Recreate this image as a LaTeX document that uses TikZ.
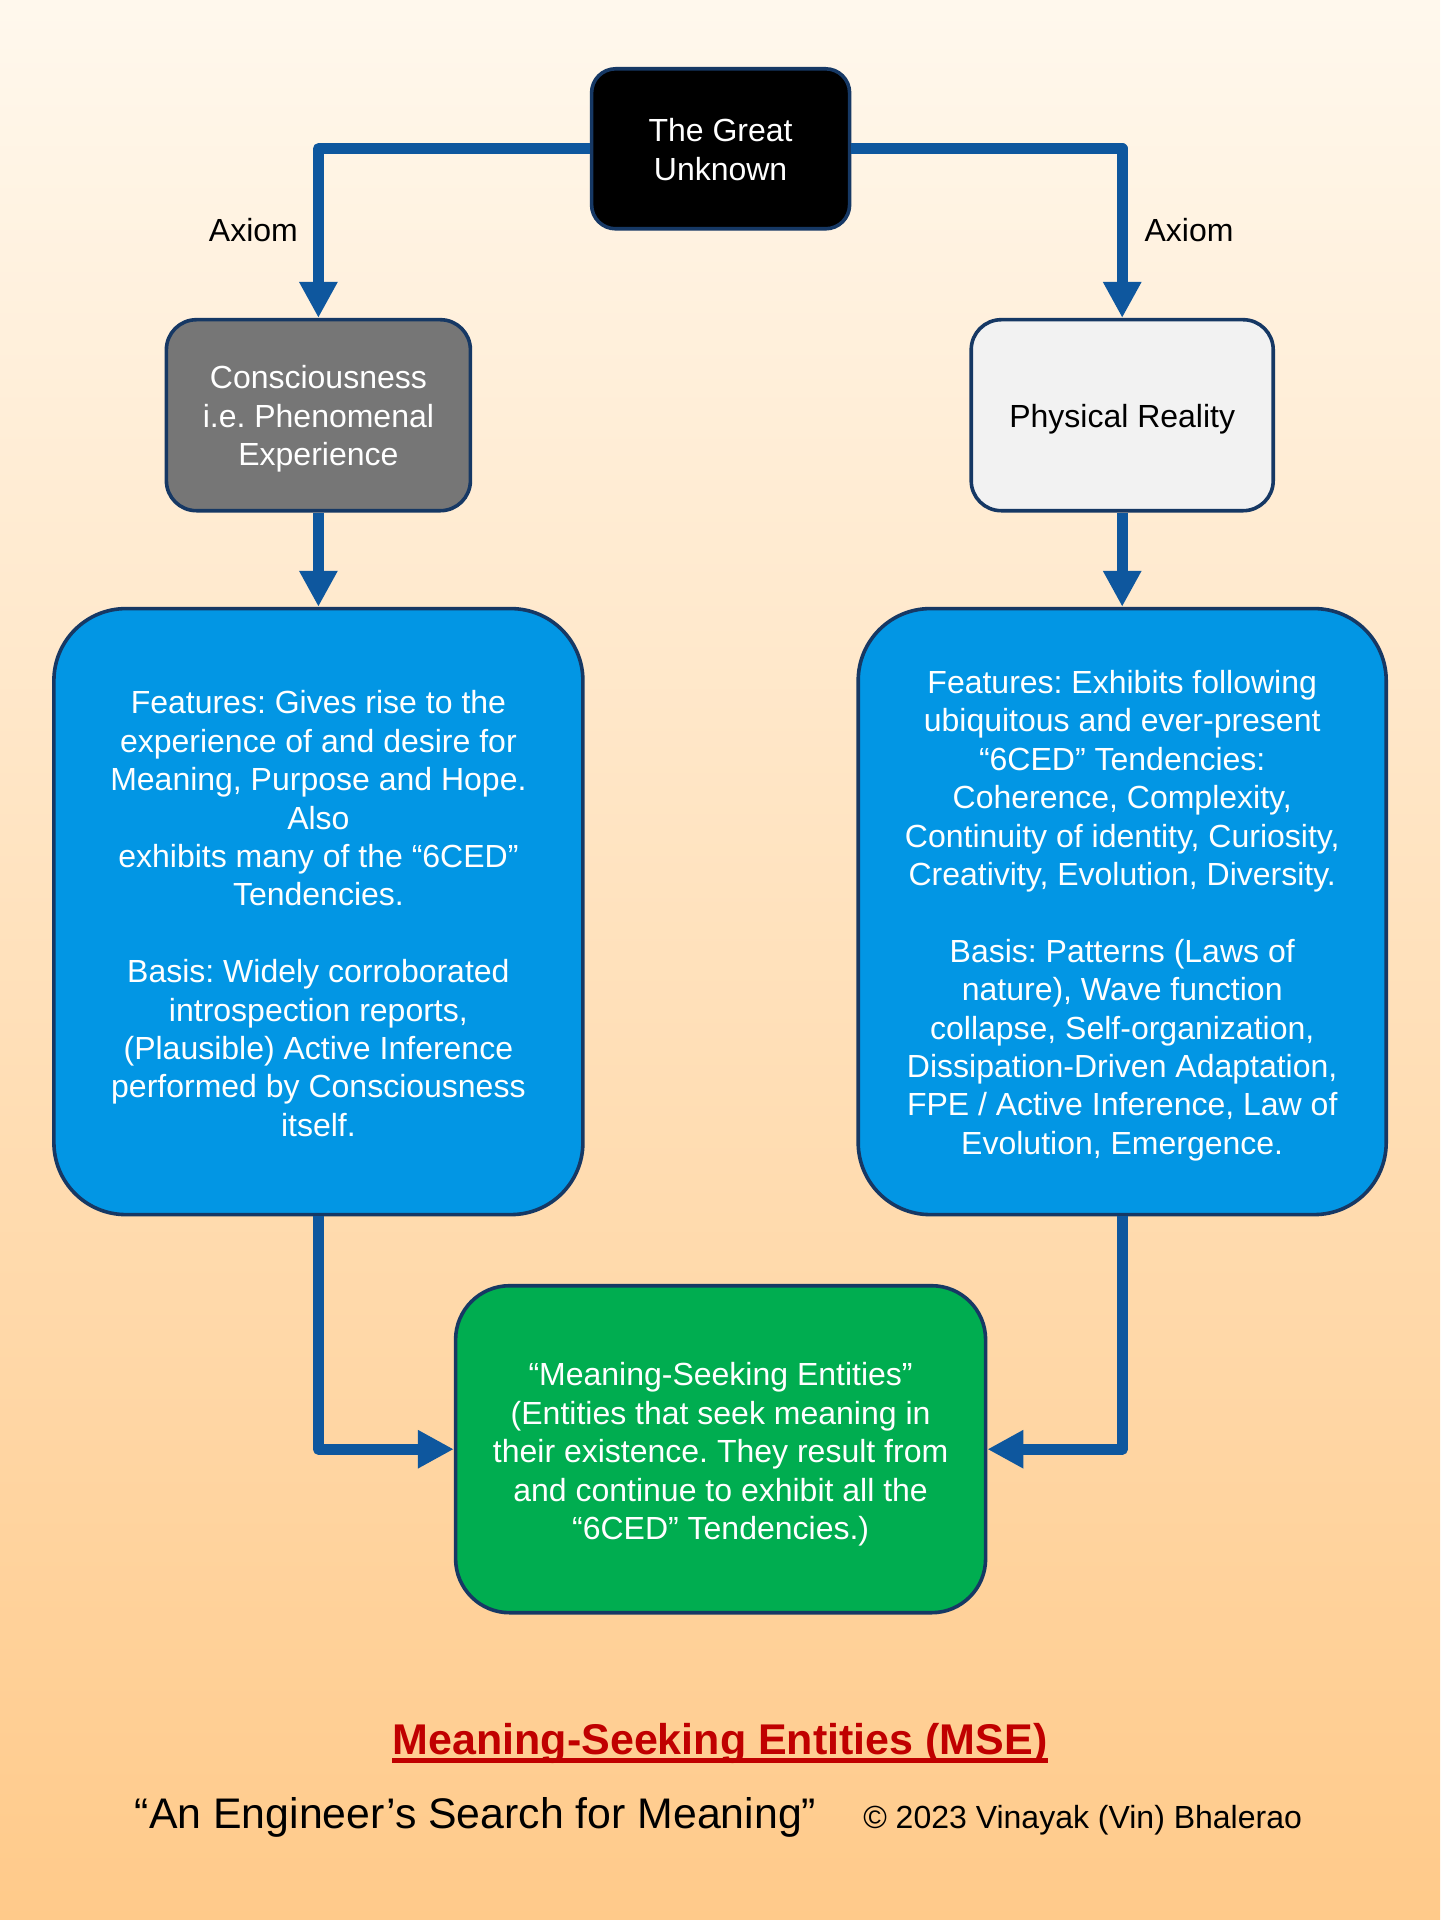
\documentclass[tikz,border=0pt]{standalone}
\usepackage{fontspec}
\setmainfont{Liberation Sans}
\usetikzlibrary{arrows.meta}
\definecolor{arrowblue}{RGB}{14,87,158}
\definecolor{boxline}{RGB}{22,56,100}
\definecolor{bluefill}{RGB}{2,150,228}
\definecolor{greenfill}{RGB}{0,173,80}
\definecolor{grayfill}{RGB}{118,118,118}
\definecolor{lightfill}{RGB}{242,242,242}
\definecolor{titlered}{RGB}{192,0,0}
\definecolor{bgtop}{RGB}{255,248,237}
\definecolor{bgbottom}{RGB}{255,202,138}
\frenchspacing
\tikzset{
  box/.style={draw=boxline, line width=1.8pt, inner sep=0pt},
  boxtext/.style={align=center, inner sep=0pt,
    font=\fontsize{16}{19.2}\selectfont},
  conn/.style={draw=arrowblue, line width=5.5pt, line join=round,
    -{Triangle[width=18pt,length=18pt]}},
  lbl/.style={inner sep=0pt, font=\fontsize{16}{19.2}\selectfont, text=black}
}
\begin{document}
\begin{tikzpicture}[x=1pt,y=-1pt]
\shade[top color=bgtop, bottom color=bgbottom] (0,0) rectangle (720,960);
\useasboundingbox (0,0) rectangle (720,960);

\node[box, fill=black, rounded corners=12pt, minimum width=129pt, minimum height=80pt] (gu) at (360.3,74.4) {};
\node[box, fill=grayfill, rounded corners=15pt, minimum width=152pt, minimum height=95.5pt] (cons) at (159.2,207.6) {};
\node[box, fill=lightfill, rounded corners=15pt, minimum width=151pt, minimum height=95.5pt] (phys) at (561.1,207.6) {};
\node[box, fill=bluefill, rounded corners=36pt, minimum width=264.5pt, minimum height=303pt] (lb) at (159.2,455.8) {};
\node[box, fill=bluefill, rounded corners=36pt, minimum width=264pt, minimum height=303pt] (rb) at (561.1,455.8) {};
\node[box, fill=greenfill, rounded corners=27pt, minimum width=265pt, minimum height=163.5pt] (ms) at (360.3,724.6) {};

\node[boxtext, text=white] (guT) at ([yshift=-0.3pt]gu.center) {The Great\\Unknown};
\node[boxtext, text=white] (consT) at ([yshift=-1.8pt]cons.center) {Consciousness\\i.e. Phenomenal\\Experience};
\node[boxtext, text=black] (physT) at ([yshift=-1.8pt]phys.center) {Physical Reality};
\node[boxtext, text=white] (lbT) at ([yshift=-1pt]lb.center) {Features: Gives rise to the\\experience of and desire for\\Meaning, Purpose and Hope.\\Also\\exhibits many of the “6CED”\\Tendencies.\\[19.2pt]Basis: Widely corroborated\\introspection reports,\\(Plausible) Active Inference\\performed by Consciousness\\itself.};
\node[boxtext, text=white] (rbT) at ([yshift=-2pt]rb.center) {Features: Exhibits following\\ubiquitous and ever-present\\“6CED” Tendencies:\\Coherence, Complexity,\\Continuity of identity, Curiosity,\\Creativity, Evolution, Diversity.\\[19.2pt]Basis: Patterns (Laws of\\nature), Wave function\\collapse, Self-organization,\\Dissipation-Driven Adaptation,\\FPE / Active Inference, Law of\\Evolution, Emergence.};
\node[boxtext, text=white] (msT) at ([yshift=-2.6pt]ms.center) {“Meaning-Seeking Entities”\\(Entities that seek meaning in\\their existence. They result from\\and continue to exhibit all the\\“6CED” Tendencies.)};

\draw[conn] (gu.west) -| (cons.north);
\draw[conn] (gu.east) -| (phys.north);
\draw[conn] (cons.south) -- (lb.north);
\draw[conn] (phys.south) -- (rb.north);
\draw[conn] (lb.south) |- (ms.west);
\draw[conn] (rb.south) |- (ms.east);

\node[lbl] (ax1) at (126.7,115.1) {Axiom};
\node[lbl] (ax2) at (594.5,115.1) {Axiom};

\node[inner sep=0pt, anchor=base, text=titlered, font=\bfseries\fontsize{21.5}{25}\selectfont] (title) at (360,877) {Meaning-Seeking Entities (MSE)};
\draw[titlered, line width=2.5pt] ([yshift=-3.3pt]title.base west) -- ([yshift=-3.3pt]title.base east);

\node[inner sep=0pt, anchor=base, font=\fontsize{21.4}{25}\selectfont] (book) at (237.8,914) {“An Engineer’s Search for Meaning”};
\node[inner sep=0pt, anchor=base, font=\fontsize{16}{19}\selectfont] (copy) at (541.3,914) {© 2023 Vinayak (Vin) Bhalerao};
\end{tikzpicture}
\end{document}
